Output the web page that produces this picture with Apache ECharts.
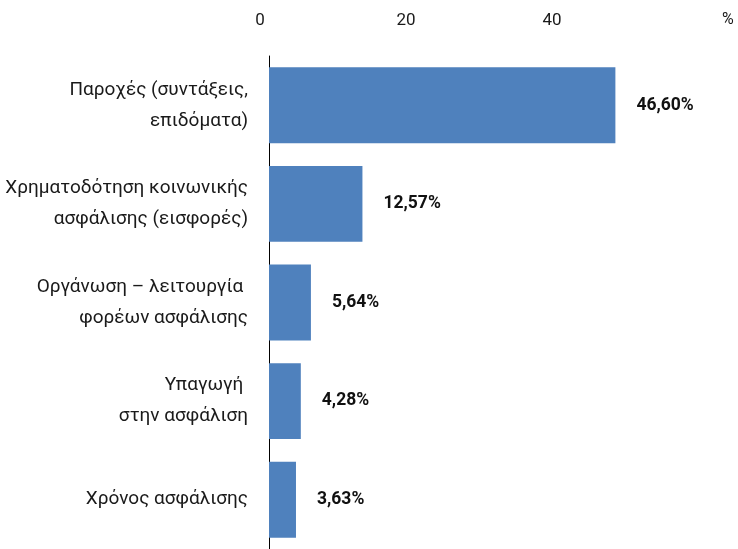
<!DOCTYPE html>
<html>
<head>
<meta charset="utf-8">
<script src="https://cdn.jsdelivr.net/npm/echarts@6/dist/echarts.min.js"></script>
<style>
  html, body { margin: 0; padding: 0; background: #fff; }
  #chart { width: 738px; height: 549px; }
</style>
</head>
<body>
<div id="chart"></div>
<script>
var categories = [
    'Παροχές (συντάξεις,\nεπιδόματα)',
    'Χρηματοδότηση κοινωνικής\nασφάλισης (εισφορές)',
    'Οργάνωση – λειτουργία \nφορέων ασφάλισης',
    'Υπαγωγή \nστην ασφάλιση',
    'Χρόνος ασφάλισης'
];
var values = [46.60, 12.57, 5.64, 4.28, 3.63];
var tickValues = [0, 20, 40];

var box = echarts.init(document.getElementById('chart'));

var font = 'Roboto, "Noto Sans", sans-serif';

option = {
    animation: false,
    grid: [
        // bars
        { left: 269, right: 23, top: 56, bottom: 0 },
        // axis labels on top
        { left: 260, right: 40, top: 10, height: 10 }
    ],
    xAxis: [
        {
            type: 'value',
            gridIndex: 0,
            min: 0,
            max: 60,
            show: false
        },
        {
            type: 'value',
            gridIndex: 1,
            position: 'top',
            min: 0,
            max: 60,
            interval: 20,
            axisLine: { show: false },
            axisTick: { show: false },
            splitLine: { show: false },
            axisLabel: {
                margin: -11,
                verticalAlign: 'middle',
                color: '#1a1a1a',
                fontSize: 17,
                fontFamily: font,
                formatter: function (v) {
                    return tickValues.indexOf(v) >= 0 ? String(v) : '';
                }
            },
            name: '%',
            nameLocation: 'end',
            nameGap: 24,
            nameTextStyle: {
                color: '#1a1a1a',
                fontSize: 16,
                fontFamily: font,
                verticalAlign: 'middle'
            }
        }
    ],
    yAxis: [
        {
            type: 'category',
            gridIndex: 0,
            inverse: true,
            offset: 2,
            data: categories,
            axisLine: { lineStyle: { color: '#000', width: 1 } },
            axisTick: {
                length: 12,
                lineStyle: { color: '#444' },
                interval: function (index) { return index !== 0; }
            },
            axisLabel: {
                margin: 19,
                color: '#1a1a1a',
                fontSize: 19,
                lineHeight: 31,
                padding: [11, 0, 0, 0],
                fontFamily: font,
                align: 'right'
            }
        },
        {
            type: 'value',
            gridIndex: 1,
            show: false
        }
    ],
    series: [
        {
            type: 'bar',
            xAxisIndex: 0,
            yAxisIndex: 0,
            barCategoryGap: '23%',
            color: '#4F81BD',
            label: {
                show: true,
                position: 'right',
                distance: 21,
                color: '#111',
                fontSize: 17.5,
                fontWeight: 'bold',
                fontFamily: font,
                formatter: function (p) {
                    return p.value.toFixed(2).replace('.', ',') + '%';
                }
            },
            data: values
        }
    ]
};
box.setOption(option);
</script>
</body>
</html>
